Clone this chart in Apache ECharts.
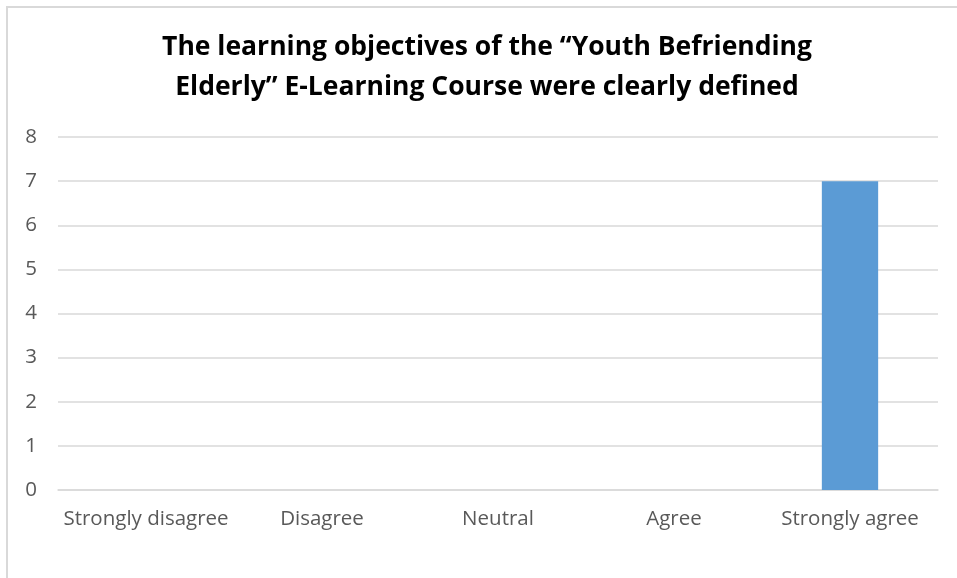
<!DOCTYPE html>
<html><head><meta charset="utf-8">
<script src="https://cdn.jsdelivr.net/npm/echarts@6/dist/echarts.min.js"></script>
<style>html,body{margin:0;padding:0;background:#fff}#c{width:957px;height:578px}</style>
</head><body><div id="c"></div>
<script>
const categories = ["Strongly disagree", "Disagree", "Neutral", "Agree", "Strongly agree"];
const values = [0, 0, 0, 0, 7];
const titleLines = ["The learning objectives of the \u201cYouth Befriending", "Elderly\u201d E-Learning Course were clearly defined"];

const titleFont = {fontFamily: 'Open Sans', fontWeight: 'bold', fontSize: 26.5};
const chart = echarts.init(document.getElementById('c'), null, {renderer: 'canvas'});
chart.setOption({
  animation: false,
  backgroundColor: '#fff',
  graphic: [
    {type: 'rect', shape: {x: 7, y: 7, width: 962, height: 582}, style: {fill: 'none', stroke: '#d9d9d9', lineWidth: 2}, silent: true},
    {type: 'text', x: 487, y: 47, silent: true,
     style: Object.assign({text: titleLines[0], fill: '#000', align: 'center', verticalAlign: 'middle'}, titleFont)},
    {type: 'text', x: 487, y: 87, silent: true,
     style: Object.assign({text: titleLines[1], fill: '#000', align: 'center', verticalAlign: 'middle'}, titleFont)}
  ],
  grid: {left: 58, right: 19, top: 137, bottom: 88, containLabel: false},
  xAxis: {
    type: 'category', data: categories,
    axisLine: {show: true, lineStyle: {color: '#d9d9d9', width: 1.5}},
    axisTick: {show: false},
    axisLabel: {color: '#595959', fontFamily: 'Open Sans', fontSize: 20.5, margin: 19, interval: 0}
  },
  yAxis: {
    type: 'value', min: 0, max: 8, interval: 1,
    axisLine: {show: false}, axisTick: {show: false},
    splitLine: {lineStyle: {color: '#d9d9d9', width: 1.5}},
    axisLabel: {color: '#595959', fontFamily: 'Open Sans', fontSize: 20.5, margin: 21}
  },
  series: [{
    type: 'bar', data: values, barWidth: '32%',
    itemStyle: {color: '#5b9bd5'}
  }]
});
</script></body></html>
